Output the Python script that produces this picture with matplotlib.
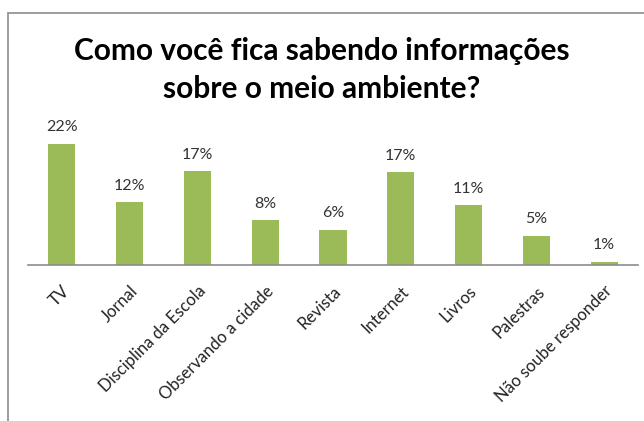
import matplotlib.pyplot as plt
from matplotlib.patches import Rectangle

categories = ["TV", "Jornal", "Disciplina da Escola", "Observando a cidade",
              "Revista", "Internet", "Livros", "Palestras", "Não soube responder"]
values = [22.3, 11.6, 17.3, 8.2, 6.5, 17.1, 11.0, 5.4, 0.6]

plt.rcParams['font.family'] = ['Lato', 'DejaVu Sans']

fig = plt.figure(figsize=(6.44, 4.21), dpi=100)

# outer chart frame (cut off at right and bottom like the screenshot)
fig.patches.append(Rectangle((8 / 644, -0.1), 1.0, 1.1 - 13 / 421,
                             transform=fig.transFigure, fill=False,
                             edgecolor='#8c8c8c', linewidth=1.2))

ax = fig.add_axes([28 / 644, 1 - 265 / 421, 610 / 644, 136 / 421])
x = range(len(categories))
bars = ax.bar(x, values, width=0.4, color='#9bbb59')
ax.set_xlim(-0.5, len(categories) - 0.5)
ax.set_ylim(0, 25)

for b, v in zip(bars, values):
    ax.text(b.get_x() + b.get_width() / 2, v + 1.7, f"{v:.0f}%",
            ha='center', va='bottom', fontsize=11.5, color='#333333')

ax.set_xticks(list(x))
ax.set_xticklabels(categories, rotation=45, ha='right', rotation_mode='anchor',
                   fontsize=12, color='#222222')
ax.tick_params(axis='x', length=0, pad=13)
ax.set_yticks([])
for s in ['top', 'right', 'left']:
    ax.spines[s].set_visible(False)
ax.spines['bottom'].set_color('#8c8c8c')
ax.spines['bottom'].set_linewidth(1.2)

fig.text(0.5, 1 - 70 / 421, "Como você fica sabendo informações\nsobre o meio ambiente?",
         ha='center', va='center', fontsize=21.5, fontweight='bold',
         linespacing=1.4, color='black')

fig.savefig('out.png', dpi=100)
